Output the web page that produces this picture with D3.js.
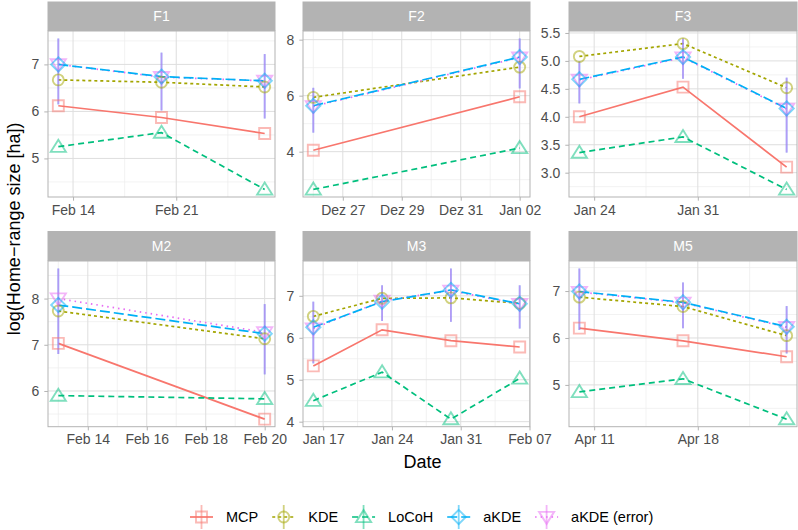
<!DOCTYPE html>
<html><head><meta charset="utf-8">
<script src="https://cdn.jsdelivr.net/npm/d3@7"></script>
<style>body{margin:0;background:#fff} svg{display:block} text{font-family:"Liberation Sans",Arial,sans-serif}</style>
</head><body><svg id="c" width="798" height="530"></svg>
<script>
const panelNames = ["F1","F2","F3","M2","M3","M5"];
const seriesNames = ["MCP","KDE","LoCoH","aKDE","aKDE (error)"];
const seriesColors = ["#F8766D","#A3A500","#00BF7D","#00B0F6","#E76BF3"];
const panelDates = [
  ["2019-02-13","2019-02-20","2019-02-27"],
  ["2018-12-26","2019-01-02"],
  ["2019-01-23","2019-01-30","2019-02-06"],
  ["2019-02-13","2019-02-20"],
  ["2019-01-16","2019-01-23","2019-01-30","2019-02-06"],
  ["2019-04-10","2019-04-17","2019-04-24"]
];
const mcp   = [[6.12,5.87,5.53],[4.05,5.96],[4.00,4.53,3.10],[7.03,5.39],[5.33,6.19,5.93,5.78],[6.21,5.94,5.60]];
const kde   = [[6.67,6.62,6.52],[5.94,7.02],[5.08,5.31,4.52],[7.73,7.13],[6.51,6.94,6.95,6.82],[6.87,6.67,6.05]];
const locoh = [[5.25,5.55,4.34],[2.65,4.13],[3.36,3.64,2.70],[5.90,5.83],[4.50,5.18,4.06,5.03],[4.85,5.13,4.27]];
const akde  = [[7.00,6.74,6.65],[5.64,7.38],[4.67,5.07,4.15],[7.86,7.24],[6.25,6.86,7.14,6.81],[6.99,6.76,6.24]];
const akdeError = [[7.00,6.73,6.65],[5.62,7.36],[4.66,5.06,4.14],[8.00,7.27],[6.22,6.88,7.12,6.80],[6.98,6.75,6.23]];
const akdeLow  = [[6.15,6.02,5.85],[4.68,6.26],[4.24,4.68,3.36],[6.80,6.36],[5.39,6.40,6.38,6.22],[6.17,6.21,5.67]];
const akdeHigh = [[7.55,7.25,7.22],[6.28,8.04],[4.99,5.40,4.70],[8.65,7.88],[6.86,7.25,7.65,7.25],[7.48,7.18,6.68]];
const xTicks = [
  ["2019-02-14","2019-02-21"],
  ["2018-12-27","2018-12-29","2018-12-31","2019-01-02"],
  ["2019-01-24","2019-01-31"],
  ["2019-02-14","2019-02-16","2019-02-18","2019-02-20"],
  ["2019-01-17","2019-01-24","2019-01-31","2019-02-07"],
  ["2019-04-11","2019-04-18"]
];
const yTicks = [[5,6,7],[4,6,8],[3,3.5,4,4.5,5,5.5],[6,7,8],[4,5,6,7],[5,6,7]];
const xTitle = "Date";
const yTitle = "log(Home\u2212range size [ha])";

const seriesValues = [mcp, kde, locoh, akde, akdeError];
const dashes = [null, "3,3", "6,4", "10,4", "1.5,4"];
const shapes = ["square","circle","triangle","diamond","triangleDown"];

const parse = d3.utcParse("%Y-%m-%d");
const de = d3.timeFormatLocale({dateTime:"%A, %e. %B %Y, %X",date:"%d.%m.%Y",time:"%H:%M:%S",periods:["AM","PM"],
  days:["Sonntag","Montag","Dienstag","Mittwoch","Donnerstag","Freitag","Samstag"],
  shortDays:["So","Mo","Di","Mi","Do","Fr","Sa"],
  months:["Januar","Februar","März","April","Mai","Juni","Juli","August","September","Oktober","November","Dezember"],
  shortMonths:["Jan","Feb","Mär","Apr","Mai","Jun","Jul","Aug","Sep","Okt","Nov","Dez"]});
const fmtDate = de.utcFormat("%b %d");

const svg = d3.select("#c");
const colX = [[48,275],[303,530],[569,797]];
const rowY = [{strip:[1.5,31], plot:[31,197]}, {strip:[231,261], plot:[261,426.7]}];
const grey70 = "#B3B3B3", grid = "#DEDEDE", minorGrid = "#EDEDED";

function shapePath(s, r) {
  if (s === "square") return `M${-r},${-r}H${r}V${r}H${-r}Z`;
  if (s === "circle") return `M${r},0A${r},${r} 0 1,1 ${-r},0A${r},${r} 0 1,1 ${r},0Z`;
  if (s === "triangle") { const h = r*1.25; return `M0,${-h}L${h*1.1},${h*0.75}L${-h*1.1},${h*0.75}Z`; }
  if (s === "triangleDown") { const h = r*1.25; return `M0,${h}L${h*1.1},${-h*0.75}L${-h*1.1},${-h*0.75}Z`; }
  if (s === "diamond") { const d = r*1.3; return `M0,${-d}L${d},0L0,${d}L${-d},0Z`; }
}
function midpoints(ticks, lo, hi) {
  const out = [];
  for (let i = 0; i < ticks.length - 1; i++) out.push((+ticks[i] + +ticks[i+1]) / 2);
  if (ticks.length > 1) {
    const step = +ticks[1] - +ticks[0];
    out.push(+ticks[0] - step/2, +ticks[ticks.length-1] + step/2);
  }
  return out.filter(v => v > lo && v < hi);
}

panelNames.forEach((name, p) => {
  const c = p % 3, r = Math.floor(p / 3);
  const [x0, x1] = colX[c];
  const {strip, plot} = rowY[r];
  const dates = panelDates[p].map(parse);
  const dExt = d3.extent(dates);
  const dPad = (dExt[1] - dExt[0]) * 0.05;
  const x = d3.scaleUtc().domain([new Date(+dExt[0] - dPad), new Date(+dExt[1] + dPad)]).range([x0, x1]);
  const allV = [].concat(...seriesValues.map(s => s[p]), akdeLow[p], akdeHigh[p]);
  const vExt = d3.extent(allV);
  const vPad = (vExt[1] - vExt[0]) * 0.05;
  const y = d3.scaleLinear().domain([vExt[0] - vPad, vExt[1] + vPad]).range([plot[1], plot[0]]);
  const g = svg.append("g");

  g.append("rect").attr("x", x0).attr("y", plot[0]).attr("width", x1-x0).attr("height", plot[1]-plot[0]).attr("fill", "#fff");
  const xt = xTicks[p].map(parse);
  const yt = yTicks[p];
  const xd = x.domain(), yd = y.domain();
  midpoints(xt, +xd[0], +xd[1]).forEach(v => g.append("line").attr("x1", x(v)).attr("x2", x(v)).attr("y1", plot[0]).attr("y2", plot[1]).attr("stroke", minorGrid).attr("stroke-width", 0.7));
  midpoints(yt, yd[0], yd[1]).forEach(v => g.append("line").attr("y1", y(v)).attr("y2", y(v)).attr("x1", x0).attr("x2", x1).attr("stroke", minorGrid).attr("stroke-width", 0.7));
  xt.forEach(v => g.append("line").attr("x1", x(v)).attr("x2", x(v)).attr("y1", plot[0]).attr("y2", plot[1]).attr("stroke", grid).attr("stroke-width", 1));
  yt.forEach(v => g.append("line").attr("y1", y(v)).attr("y2", y(v)).attr("x1", x0).attr("x2", x1).attr("stroke", grid).attr("stroke-width", 1));

  const ax = d3.axisBottom(x).tickValues(xt).tickFormat(fmtDate).tickSize(3.7).tickPadding(4);
  const axg = g.append("g").attr("transform", `translate(0,${plot[1]})`).call(ax);
  const ay = d3.axisLeft(y).tickValues(yt).tickFormat(yt.some(v => v % 1) ? d3.format(".1f") : d3.format("d")).tickSize(3.7).tickPadding(5);
  const ayg = g.append("g").attr("transform", `translate(${x0},0)`).call(ay);
  [axg, ayg].forEach(a => {
    a.select(".domain").remove();
    a.selectAll(".tick line").attr("stroke", grey70);
    a.selectAll(".tick text").attr("fill", "#4D4D4D").style("font-size", "14px").style("font-family", "'Liberation Sans',Arial,sans-serif");
  });

  const order = [0,1,2,4,3];
  order.forEach(s => {
    const pts = dates.map((d, i) => [x(d), y(seriesValues[s][p][i])]);
    g.append("path").attr("d", d3.line()(pts)).attr("fill", "none").attr("stroke", seriesColors[s])
      .attr("stroke-width", 1.7).attr("stroke-dasharray", dashes[s]);
  });
  [3,4].forEach(s => {
    dates.forEach((d, i) => {
      g.append("line").attr("x1", x(d)).attr("x2", x(d)).attr("y1", y(akdeLow[p][i])).attr("y2", y(akdeHigh[p][i]))
        .attr("stroke", seriesColors[s]).attr("stroke-opacity", 0.55).attr("stroke-width", 1.8);
    });
  });
  order.forEach(s => {
    dates.forEach((d, i) => {
      g.append("path").attr("d", shapePath(shapes[s], 5.5)).attr("transform", `translate(${x(d)},${y(seriesValues[s][p][i])})`)
        .attr("fill", "none").attr("stroke", seriesColors[s]).attr("stroke-opacity", 0.5).attr("stroke-width", 1.9);
    });
  });

  g.append("rect").attr("x", x0).attr("y", plot[0]).attr("width", x1-x0).attr("height", plot[1]-plot[0]).attr("fill", "none").attr("stroke", grey70).attr("stroke-width", 1);
  g.append("rect").attr("x", x0-0.5).attr("y", strip[0]).attr("width", x1-x0+1).attr("height", strip[1]-strip[0]).attr("fill", grey70);
  g.append("text").attr("x", (x0+x1)/2).attr("y", (strip[0]+strip[1])/2).attr("dy", "0.36em").attr("text-anchor", "middle")
    .attr("fill", "#fff").style("font-size", "14px").text(name);
});

svg.append("text").attr("x", (colX[0][0] + colX[2][1]) / 2).attr("y", 468).attr("text-anchor", "middle")
  .style("font-size", "18px").attr("fill", "#000").text(xTitle);
svg.append("text").attr("transform", `translate(20,${(rowY[0].plot[0] + rowY[1].plot[1]) / 2}) rotate(-90)`).attr("text-anchor", "middle")
  .style("font-size", "18px").attr("fill", "#000").text(yTitle);

const leg = svg.append("g");
let lx = 190; const ly = 517;
seriesNames.forEach((nm, s) => {
  const kx = lx, kc = kx + 11.5;
  leg.append("line").attr("x1", kx).attr("x2", kx + 23).attr("y1", ly).attr("y2", ly).attr("stroke", seriesColors[s]).attr("stroke-width", 1.7).attr("stroke-dasharray", dashes[s]);
  leg.append("line").attr("x1", kc).attr("x2", kc).attr("y1", ly - 12).attr("y2", ly + 12).attr("stroke", seriesColors[s]).attr("stroke-opacity", 0.5).attr("stroke-width", 1.8);
  leg.append("path").attr("d", shapePath(shapes[s], 5.5)).attr("transform", `translate(${kc},${ly})`).attr("fill", "none")
    .attr("stroke", seriesColors[s]).attr("stroke-opacity", 0.5).attr("stroke-width", 1.9);
  const t = leg.append("text").attr("x", kx + 36).attr("y", ly).attr("dy", "0.36em").style("font-size", "14.5px").attr("fill", "#000").text(nm);
  lx = kx + 36 + t.node().getComputedTextLength() + 14;
});
</script></body></html>
